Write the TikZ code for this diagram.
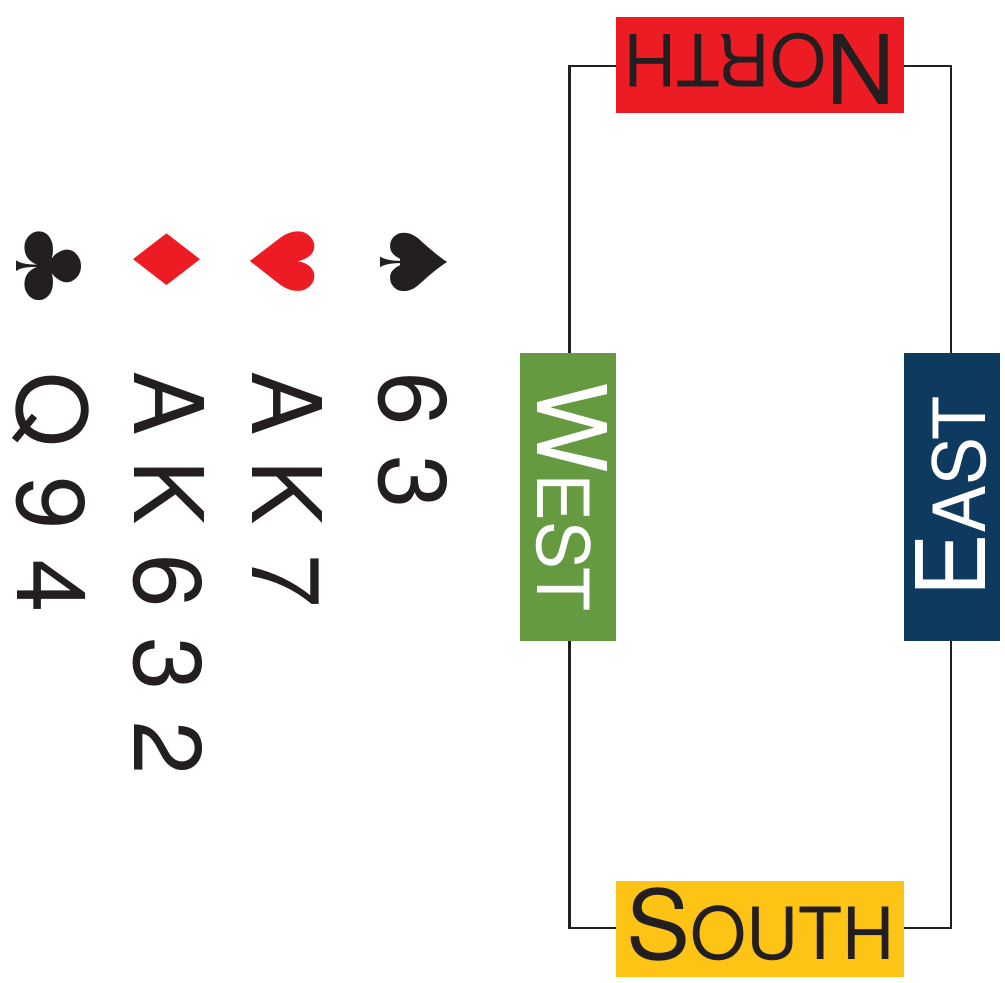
\documentclass[tikz,border=0pt]{standalone}
\usepackage{graphicx}
\usepackage{fontspec}
\setmainfont{TeX Gyre Heros}
\newfontfamily\suitfont{DejaVu Sans}
\definecolor{ink}{HTML}{231F20}
\definecolor{nred}{HTML}{ED1C24}
\definecolor{wgreen}{HTML}{669A41}
\definecolor{eblue}{HTML}{0F3A5F}
\definecolor{syellow}{HTML}{FDC315}
\newcommand{\seat}[2]{{\fontsize{96}{96}\selectfont #1\fontsize{72}{72}\selectfont #2}}
\newcommand{\hand}[1]{{\fontsize{96}{96}\selectfont\spaceskip=30pt\relax #1}}
\tikzset{
 x=1pt,y=-1pt,
 seatbox/.style={draw=none,inner sep=0pt,outer sep=0pt},
 cards/.style={inner sep=0pt,outer sep=0pt,rotate=-90,anchor=base west,text=ink},
 suit/.style={inner sep=0pt,outer sep=0pt,rotate=-90,font=\suitfont\fontsize{92}{92}\selectfont},
 seatlabel/.style={inner sep=0pt,outer sep=0pt,anchor=base},
 table/.style={draw=ink,line width=2.4pt,line join=miter}
}
\begin{document}
\begin{tikzpicture}
\useasboundingbox (0,0) rectangle (1005,983);
\fill[white] (0,0) rectangle (1005,983);
\coordinate (nw) at (569.5,66);
\coordinate (ne) at (951,66);
\coordinate (sw) at (569.5,928);
\coordinate (se) at (951,928);
\node[seatbox,fill=nred,minimum width=288pt,minimum height=96pt] (north) at (760,65) {};
\node[seatbox,fill=wgreen,minimum width=96pt,minimum height=288pt] (west) at (568,497) {};
\node[seatbox,fill=eblue,minimum width=96pt,minimum height=288pt] (east) at (952,497) {};
\node[seatbox,fill=syellow,minimum width=288pt,minimum height=96pt] (south) at (760,929) {};
\draw[table] (north.west |- nw) -- (nw) -- (nw |- west.north);
\draw[table] (north.east |- ne) -- (ne) -- (ne |- east.north);
\draw[table] (south.west |- sw) -- (sw) -- (sw |- west.south);
\draw[table] (south.east |- se) -- (se) -- (se |- east.south);
\node[seatlabel,rotate=180,text=ink] (ntext) at (760,34.5) {\seat{N}{ORTH}};
\node[seatlabel,rotate=-90,text=white] (wtext) at (537,497) {\seat{W}{EST}};
\node[seatlabel,rotate=90,text=white] (etext) at (985,497) {\seat{E}{AST}};
\node[seatlabel,text=ink] (stext) at (760,959) {\seat{S}{OUTH}};
\node[cards] (spades) at (379,372) {\hand{6 3}};
\node[cards] (hearts) at (252,371.5) {\hand{A\kern-5pt{} K 7}};
\node[cards] (diamonds) at (134.7,371.5) {\hand{A\kern-5pt{} K 6 3 2}};
\node[cards] (clubs) at (17,372) {\hand{Q 9\kern-1pt{} 4}};
\node[suit,text=ink] (spade) at (414,262) {\scalebox{1.09}[1]{♠}};
\node[suit,text=nred] (heart) at (283,262) {\scalebox{0.9}[0.96]{♥}};
\node[suit,text=nred] (diamond) at (167,259.5) {♦};
\node[suit,text=ink] (club) at (49.5,266) {\scalebox{1.11}[0.97]{♣}};
\end{tikzpicture}
\end{document}
